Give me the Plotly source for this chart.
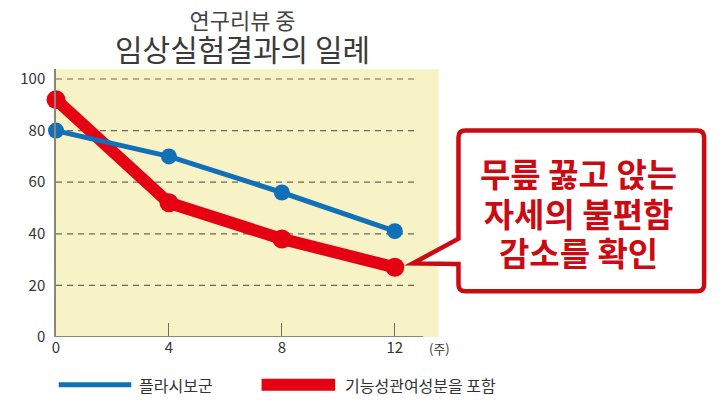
import plotly.graph_objects as go

# ---- data ----
weeks = [0, 4, 8, 12]
placebo = [80, 70, 56, 41]
functional = [92, 52, 38, 27]
ytick_vals = [0, 20, 40, 60, 80, 100]
ytick_text = ["0", "20", "40", "60", "80", "100"]
xtick_vals = [0, 4, 8, 12]
xtick_text = ["0", "4", "8", "12"]
name_placebo = "플라시보군"
name_functional = "기능성관여성분을 포함"
title_small = "연구리뷰 중"
title_big = "임상실험결과의 일례"
unit_label = "(주)"
callout_lines = ["무릎 꿇고 앉는", "자세의 불편함", "감소를 확인"]

W, H = 725, 419
BLUE = "#1170b8"
RED = "#e50012"
CALLRED = "#cc0a12"
YELLOW = "#f8f3c6"
GRAY = "#333333"
NUMFONT = "Liberation Sans Narrow, Noto Sans CJK KR, sans-serif"
KRFONT = "Noto Sans CJK KR, sans-serif"


def px(x):
    return x / W


def py(y):
    return 1 - y / H


fig = go.Figure()
fig.add_trace(go.Scatter(
    x=weeks, y=functional, mode="lines+markers", name=name_functional,
    line=dict(color=RED, width=12), marker=dict(color=RED, size=19),
    cliponaxis=False, showlegend=False))
fig.add_trace(go.Scatter(
    x=weeks, y=placebo, mode="lines+markers", name=name_placebo,
    line=dict(color=BLUE, width=5), marker=dict(color=BLUE, size=16),
    cliponaxis=False, showlegend=False))

shapes = []
# dashed gridlines
for v in ytick_vals[1:]:
    shapes.append(dict(type="line", xref="x", yref="y", x0=0, x1=12.8, y0=v, y1=v,
                       line=dict(color="#6e6a5a", width=1.2, dash="6px,5px"), layer="below"))
# x axis line
shapes.append(dict(type="line", xref="x", yref="y", x0=0, x1=13.0, y0=0, y1=0,
                   line=dict(color="#8a8678", width=2), layer="above"))

# callout box with pointer
L, T, R, B, r = 457, 132, 704, 297, 7
path = (
    f"M {px(L + r)},{py(T)} L {px(R - r)},{py(T)} "
    f"Q {px(R)},{py(T)} {px(R)},{py(T + r)} L {px(R)},{py(B - r)} "
    f"Q {px(R)},{py(B)} {px(R - r)},{py(B)} L {px(L + r)},{py(B)} "
    f"Q {px(L)},{py(B)} {px(L)},{py(B - r)} L {px(L)},{py(269)} "
    f"L {px(411)},{py(268.5)} L {px(L)},{py(243)} L {px(L)},{py(T + r)} "
    f"Q {px(L)},{py(T)} {px(L + r)},{py(T)} Z"
)
shapes.append(dict(type="path", xref="paper", yref="paper", path=path,
                   fillcolor="white", line=dict(color=CALLRED, width=4.5), layer="above"))

# manual legend lines
shapes.append(dict(type="line", xref="paper", yref="paper", x0=px(55), x1=px(128),
                   y0=py(393), y1=py(393), line=dict(color=BLUE, width=5)))
shapes.append(dict(type="line", xref="paper", yref="paper", x0=px(259), x1=px(333),
                   y0=py(393), y1=py(393), line=dict(color=RED, width=12)))

title_text = (f"<span style='font-size:22px;color:#444444'>{title_small}</span><br>"
              f"<span style='font-size:30px'>{title_big}</span>")
callout_text = "<br>".join(f"<span style='font-size:33px'><b>{ln}</b></span>" for ln in callout_lines)

annotations = [
    dict(text=title_text, x=px(240), y=py(35), xref="paper", yref="paper",
         showarrow=False, xanchor="center", yanchor="middle", align="center",
         font=dict(family=KRFONT, size=24.5, color="#3a3a3a")),
    dict(text=unit_label, x=px(438), y=py(356), xref="paper", yref="paper",
         showarrow=False, xanchor="center", yanchor="middle",
         font=dict(family=KRFONT, size=13, color=GRAY)),
    dict(text=name_placebo, x=px(134), y=py(393), xref="paper", yref="paper",
         showarrow=False, xanchor="left", yanchor="middle",
         font=dict(family=KRFONT, size=16, color=GRAY)),
    dict(text=name_functional, x=px(341), y=py(393), xref="paper", yref="paper",
         showarrow=False, xanchor="left", yanchor="middle",
         font=dict(family=KRFONT, size=16, color=GRAY)),
    dict(text=callout_text, x=px(578), y=py(216.5), xref="paper", yref="paper",
         showarrow=False, xanchor="center", yanchor="middle", align="center",
         font=dict(family=KRFONT, size=30.4, color=CALLRED)),
]

fig.update_layout(
    autosize=True,
    margin=dict(l=0, r=0, t=0, b=0),
    paper_bgcolor="white",
    plot_bgcolor=YELLOW,
    shapes=shapes,
    annotations=annotations,
    xaxis=dict(domain=[px(52.3), px(437)], range=[0, 13.55],
               tickvals=xtick_vals, ticktext=xtick_text,
               ticks="inside", ticklen=14, tickwidth=1, tickcolor="#6e6a5a",
               showgrid=False, zeroline=False, showline=False,
               tickfont=dict(family=NUMFONT, size=15, color=GRAY), fixedrange=True),
    yaxis=dict(domain=[py(344), py(69)], range=[0, 103.8],
               tickvals=ytick_vals, ticktext=ytick_text,
               ticks="outside", ticklen=6, tickcolor="rgba(0,0,0,0)",
               showgrid=False, zeroline=False, showline=True, linecolor="#8a8678", linewidth=1.5,
               tickfont=dict(family=NUMFONT, size=15, color=GRAY), fixedrange=True),
)

fig.write_html(
    "out.html",
    config={"displayModeBar": False, "responsive": True},
    default_width="100vw",
    default_height="100vh",
    post_script=(
        "document.documentElement.style.margin='0';"
        "document.documentElement.style.overflow='hidden';"
        "document.body.style.margin='0';document.body.style.overflow='hidden';"
        "var gd=document.getElementById('{plot_id}');"
        "Plotly.Plots.resize(gd);"
    ),
)
